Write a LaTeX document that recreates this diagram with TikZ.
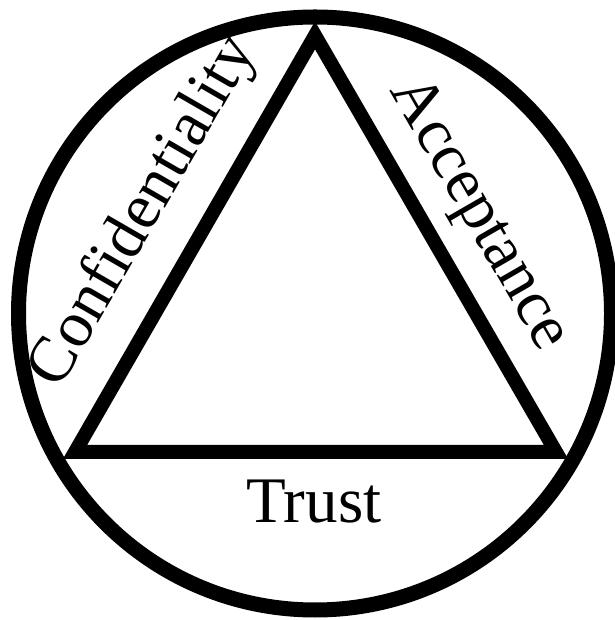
\documentclass[tikz,border=0pt]{standalone}
\usepackage{fontspec}
\setmainfont{Liberation Serif}
\usetikzlibrary{calc}

\begin{document}
\begin{tikzpicture}[x=1pt,y=1pt,
  every node/.style={font=\fontsize{65}{72}\selectfont,inner sep=0pt},
  ring/.style={draw,line width=15pt},
  tri/.style={draw,line width=14pt},
  lbl/.style={anchor=base},
]
\useasboundingbox (0,0) rectangle (614,620);
% ---- outer ring ----
\coordinate (o) at (315,306.5);
\draw[ring] (o) circle (296.5);
% ---- triangle (corners, clockwise from the top) ----
\coordinate (top) at (315,584.6);
\coordinate (br) at (556,168);
\coordinate (bl) at (75,168);
\draw[tri] (top) -- (br) -- (bl) -- cycle;
% ---- labels, set outside each side ----
\node[lbl,rotate=60]  (conf)  at ($(bl)!0.5!(top)+(150:44)+(60:2)$) {Confidentiality};
\node[lbl,rotate=-60] (acc)   at ($(top)!0.5!(br)+(30:37)+(120:4)$) {Acceptance};
\node[lbl]            (trust) at (314,97) {Trust};
\end{tikzpicture}
\end{document}
